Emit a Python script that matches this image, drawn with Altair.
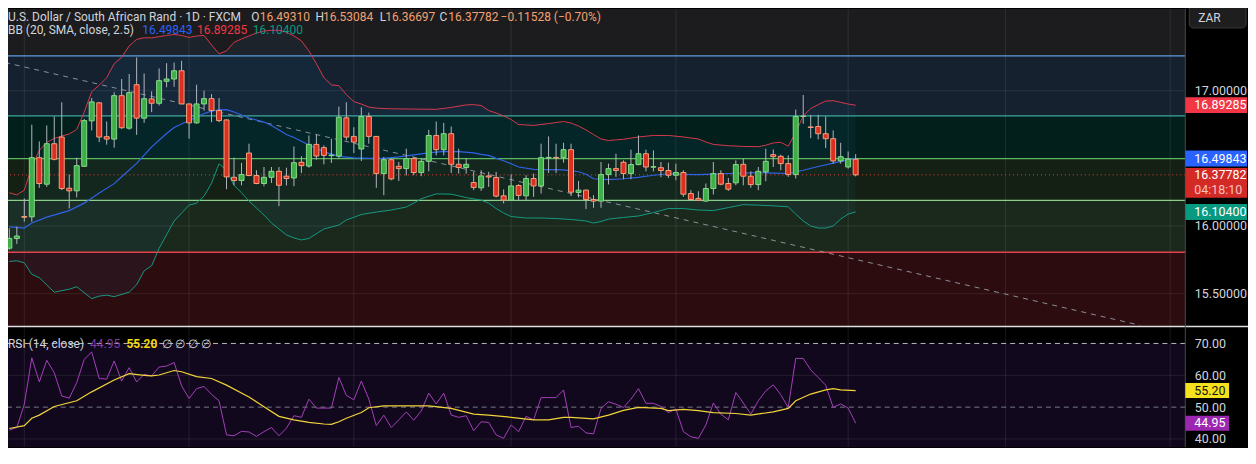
import altair as alt
import pandas as pd

# ---------------- data ----------------
opens = [15.836, 15.907, 16.070, 16.068, 16.505, 16.309, 16.608, 16.657, 16.279, 16.260,
         16.441, 16.777, 16.910, 16.660, 16.642, 16.963, 16.723, 17.044, 16.797, 16.939,
         16.907, 17.069, 17.086, 17.147, 16.902, 16.762, 16.902, 16.941, 16.853, 16.784,
         16.360, 16.336, 16.539, 16.373, 16.314, 16.360, 16.404, 16.368, 16.355, 16.471,
         16.443, 16.603, 16.579, 16.520, 16.517, 16.799, 16.662, 16.569, 16.809, 16.662,
         16.387, 16.490, 16.441, 16.424, 16.498, 16.395, 16.478, 16.669, 16.564, 16.682,
         16.456, 16.432, 16.321, 16.282, 16.370, 16.358, 16.223, 16.191, 16.299, 16.223,
         16.351, 16.296, 16.503, 16.507, 16.505, 16.564, 16.248, 16.265, 16.196, 16.184,
         16.380, 16.424, 16.471, 16.387, 16.454, 16.534, 16.435, 16.431, 16.410, 16.375,
         16.395, 16.240, 16.204, 16.184, 16.277, 16.387, 16.314, 16.319, 16.456, 16.368,
         16.306, 16.400, 16.527, 16.515, 16.461, 16.380, 16.809, 16.732, 16.735, 16.682,
         16.645, 16.481, 16.436, 16.49310]
highs = [15.983, 15.995, 16.204, 16.748, 16.625, 16.743, 16.809, 16.914, 16.380, 16.505,
         16.792, 16.946, 16.915, 16.772, 16.988, 17.086, 17.123, 17.245, 17.127, 16.995,
         17.164, 17.203, 17.208, 17.221, 16.904, 17.044, 17.000, 16.975, 16.946, 16.787,
         16.505, 16.466, 16.608, 16.412, 16.436, 16.436, 16.436, 16.431, 16.588, 16.515,
         16.669, 16.676, 16.596, 16.645, 16.882, 16.914, 16.730, 16.877, 16.838, 16.665,
         16.510, 16.500, 16.473, 16.571, 16.510, 16.500, 16.711, 16.772, 16.762, 16.735,
         16.571, 16.500, 16.400, 16.412, 16.400, 16.400, 16.270, 16.382, 16.309, 16.375,
         16.387, 16.608, 16.662, 16.608, 16.615, 16.608, 16.333, 16.268, 16.228, 16.473,
         16.461, 16.534, 16.485, 16.564, 16.669, 16.564, 16.559, 16.473, 16.468, 16.461,
         16.412, 16.265, 16.257, 16.314, 16.473, 16.412, 16.355, 16.485, 16.498, 16.404,
         16.436, 16.571, 16.566, 16.527, 16.522, 16.860, 16.968, 16.821, 16.821, 16.809,
         16.706, 16.615, 16.551, 16.53084]
lows = [15.824, 15.868, 16.032, 16.032, 16.282, 16.289, 16.485, 16.265, 16.130, 16.211,
        16.436, 16.706, 16.620, 16.601, 16.579, 16.718, 16.711, 16.674, 16.762, 16.841,
        16.890, 17.025, 17.029, 16.900, 16.645, 16.755, 16.853, 16.767, 16.767, 16.272,
        16.301, 16.301, 16.368, 16.309, 16.294, 16.318, 16.147, 16.299, 16.294, 16.392,
        16.431, 16.490, 16.456, 16.466, 16.498, 16.632, 16.539, 16.480, 16.608, 16.282,
        16.228, 16.338, 16.333, 16.373, 16.375, 16.368, 16.404, 16.522, 16.522, 16.392,
        16.387, 16.387, 16.265, 16.260, 16.289, 16.211, 16.167, 16.185, 16.191, 16.191,
        16.216, 16.240, 16.392, 16.392, 16.468, 16.221, 16.211, 16.125, 16.135, 16.135,
        16.307, 16.363, 16.346, 16.346, 16.449, 16.404, 16.404, 16.360, 16.355, 16.338,
        16.216, 16.186, 16.184, 16.179, 16.233, 16.301, 16.260, 16.301, 16.301, 16.282,
        16.265, 16.331, 16.436, 16.412, 16.363, 16.351, 16.755, 16.649, 16.640, 16.576,
        16.461, 16.461, 16.424, 16.36697]
closes = [15.909, 15.926, 16.065, 16.505, 16.314, 16.608, 16.493, 16.277, 16.260, 16.446,
          16.779, 16.917, 16.657, 16.642, 16.963, 16.726, 16.985, 16.797, 16.941, 16.907,
          17.074, 17.086, 17.147, 16.902, 16.762, 16.902, 16.941, 16.853, 16.779, 16.363,
          16.336, 16.380, 16.373, 16.314, 16.360, 16.404, 16.301, 16.351, 16.468, 16.446,
          16.603, 16.517, 16.522, 16.524, 16.804, 16.657, 16.620, 16.809, 16.662, 16.387,
          16.490, 16.348, 16.424, 16.498, 16.395, 16.478, 16.669, 16.564, 16.682, 16.456,
          16.432, 16.456, 16.285, 16.370, 16.362, 16.221, 16.191, 16.296, 16.226, 16.351,
          16.296, 16.505, 16.507, 16.503, 16.564, 16.250, 16.265, 16.196, 16.184, 16.380,
          16.424, 16.410, 16.387, 16.454, 16.534, 16.436, 16.438, 16.410, 16.375, 16.395,
          16.235, 16.196, 16.191, 16.277, 16.387, 16.309, 16.272, 16.454, 16.368, 16.306,
          16.404, 16.478, 16.512, 16.461, 16.380, 16.809, 16.812, 16.728, 16.682, 16.645,
          16.481, 16.512, 16.4931, 16.37782]
idx = list(range(len(closes)))

bb_up_i = [0, 1, 2, 3, 4, 5, 6, 7, 8, 9, 10, 11, 12, 13, 14, 15, 16, 17, 18, 19, 20, 21, 22, 23,
           24, 25, 26, 27, 28, 29, 30, 31, 32, 33, 34, 35, 36, 37, 38, 39, 40, 41, 42, 43, 44,
           45, 46, 47, 48, 49, 51, 54, 57, 59, 61, 62, 63, 64, 65, 66, 67, 68, 70, 72, 74, 75,
           76, 77, 78, 79, 80, 82, 84, 86, 88, 90, 92, 93, 94, 96, 98, 100, 101, 102, 103, 104,
           105, 106, 107, 108, 109, 110, 111, 112, 113]
bb_up_v = [16.246, 16.230, 16.265, 16.437, 16.559, 16.618, 16.647, 16.665, 16.680, 16.713,
           16.842, 16.993, 17.040, 17.096, 17.199, 17.246, 17.331, 17.379, 17.391, 17.390,
           17.399, 17.408, 17.415, 17.408, 17.393, 17.404, 17.408, 17.338, 17.272, 17.294,
           17.357, 17.382, 17.404, 17.426, 17.441, 17.446, 17.446, 17.432, 17.404, 17.368,
           17.294, 17.199, 17.096, 17.042, 17.037, 16.971, 16.919, 16.901, 16.879, 16.871,
           16.866, 16.864, 16.862, 16.876, 16.895, 16.897, 16.890, 16.853, 16.835, 16.813,
           16.787, 16.750, 16.743, 16.757, 16.772, 16.761, 16.739, 16.710, 16.676, 16.643,
           16.632, 16.641, 16.658, 16.669, 16.669, 16.658, 16.643, 16.621, 16.603, 16.593,
           16.588, 16.586, 16.597, 16.614, 16.618, 16.590, 16.691, 16.813, 16.868, 16.897,
           16.923, 16.926, 16.914, 16.901, 16.89285]

bb_mid_i = [0, 1, 2, 3, 5, 8, 10, 12, 14, 15, 17, 19, 21, 22, 24, 26, 27, 28, 29, 30, 32, 34,
            35, 37, 38, 40, 42, 44, 46, 48, 50, 52, 54, 56, 58, 60, 62, 63, 64, 65, 66, 67, 68,
            70, 72, 74, 76, 77, 78, 80, 82, 84, 86, 88, 90, 92, 94, 96, 98, 100, 102, 104, 106,
            108, 110, 112, 113]
bb_mid_v = [15.993, 15.990, 15.985, 16.022, 16.066, 16.114, 16.169, 16.243, 16.313, 16.364,
            16.463, 16.585, 16.684, 16.728, 16.779, 16.831, 16.849, 16.858, 16.860, 16.842,
            16.798, 16.768, 16.743, 16.676, 16.654, 16.599, 16.548, 16.515, 16.504, 16.499,
            16.500, 16.511, 16.526, 16.540, 16.551, 16.549, 16.540, 16.529, 16.522, 16.500,
            16.482, 16.460, 16.436, 16.418, 16.417, 16.415, 16.401, 16.382, 16.349, 16.343,
            16.349, 16.360, 16.375, 16.386, 16.382, 16.380, 16.384, 16.388, 16.391, 16.395,
            16.391, 16.388, 16.412, 16.440, 16.465, 16.488, 16.49843]

bb_lo_i = [0, 1, 2, 3, 4, 6, 8, 9, 11, 12, 13, 14, 16, 17, 18, 19, 20, 22, 24, 25, 26, 27, 28,
           29, 30, 31, 32, 34, 35, 36, 37, 38, 39, 40, 42, 44, 45, 47, 49, 51, 53, 54, 55, 57,
           59, 61, 63, 64, 65, 66, 67, 69, 71, 73, 75, 77, 78, 79, 80, 82, 84, 86, 88, 90, 92,
           94, 96, 98, 100, 102, 104, 105, 106, 107, 108, 109, 110, 111, 112, 113]
bb_lo_v = [15.738, 15.743, 15.728, 15.643, 15.618, 15.511, 15.533, 15.551, 15.463, 15.482,
           15.489, 15.478, 15.511, 15.566, 15.669, 15.706, 15.835, 16.037, 16.154, 16.169,
           16.221, 16.316, 16.460, 16.412, 16.301, 16.246, 16.184, 16.081, 16.022, 15.978,
           15.934, 15.912, 15.897, 15.908, 15.978, 16.007, 16.044, 16.085, 16.103, 16.118,
           16.140, 16.169, 16.202, 16.237, 16.235, 16.210, 16.191, 16.169, 16.129, 16.096,
           16.070, 16.059, 16.059, 16.055, 16.048, 16.037, 16.022, 16.033, 16.051, 16.063,
           16.074, 16.099, 16.129, 16.129, 16.118, 16.114, 16.136, 16.158, 16.154, 16.149,
           16.142, 16.088, 16.037, 16.000, 15.985, 15.985, 16.000, 16.051, 16.088, 16.104]

rsi_vals = [42.8, 43.6, 50.9, 65.5, 57.9, 64.7, 60.8, 53.5, 52.8, 57.7,
            65.0, 67.3, 59.0, 58.8, 64.5, 58.2, 62.4, 57.9, 60.3, 59.8,
            62.6, 62.9, 64.0, 56.7, 52.7, 55.8, 56.5, 54.0, 52.0, 41.3,
            41.0, 42.4, 42.2, 40.8, 42.3, 43.6, 41.0, 43.4, 47.3, 46.8,
            52.5, 49.7, 49.7, 49.7, 59.3, 53.7, 52.3, 58.2, 52.5, 44.2,
            47.5, 43.6, 46.0, 48.5, 45.9, 48.8, 54.4, 51.0, 54.4, 47.5,
            46.8, 47.3, 42.6, 45.4, 45.2, 41.3, 40.2, 44.4, 42.3, 47.1,
            46.0, 53.0, 53.0, 53.0, 55.4, 43.6, 44.0, 41.9, 41.6, 49.6,
            51.7, 50.9, 49.9, 52.5, 55.8, 51.2, 51.2, 50.2, 48.3, 49.4,
            42.3, 40.7, 40.2, 44.4, 51.3, 47.8, 46.0, 54.6, 51.3, 47.8,
            52.0, 55.1, 57.0, 53.9, 49.9, 65.3, 65.3, 61.7, 59.3, 56.9,
            49.9, 51.0, 49.7, 44.95]

rsi_ma_i = [0, 2, 3, 4, 6, 9, 11, 14, 16, 18, 19, 20, 22, 23, 25, 27, 29, 32, 34, 36, 38, 40,
            42, 43, 44, 45, 47, 48, 50, 53, 56, 59, 62, 64, 67, 70, 72, 74, 75, 78, 80, 82, 84,
            87, 88, 90, 92, 94, 97, 99, 102, 104, 105, 107, 109, 110, 111, 113]
rsi_ma_v = [43.3, 44.2, 46.5, 47.5, 50.2, 52.0, 54.8, 58.5, 60.5, 60.0, 59.8, 60.1, 61.5,
            61.1, 59.6, 59.0, 56.9, 53.2, 50.1, 47.1, 46.0, 45.2, 44.7, 44.6, 45.4, 46.5,
            48.3, 49.8, 50.4, 50.4, 50.4, 49.6, 47.8, 47.5, 46.8, 46.0, 46.0, 46.8, 46.8,
            46.3, 47.5, 49.0, 49.9, 49.6, 48.9, 49.3, 48.9, 48.3, 48.0, 47.5, 48.5, 49.6,
            52.0, 54.1, 55.4, 55.8, 55.4, 55.20]

zone_names = ["z0", "z1", "z2", "z3", "z4", "z5"]
zone_top = [17.60294, 17.257, 16.814, 16.498, 16.189, 15.806]
zone_bot = [17.257, 16.814, 16.498, 16.189, 15.806, 15.2574]
level_names = ["l1", "l2", "l3", "l4", "l5"]
level_prices = [17.257, 16.814, 16.498, 16.189, 15.806]
price_grid = [17.0, 16.5, 16.0, 15.5]
price_ticks = [17.0, 16.0, 15.5]
rsi_grid = [60, 40]
rsi_ticks = [70, 60, 50, 40]
month_idx = [2, 24, 46, 67, 89, 112, 133, 155]
trend_i = [-0.57, 150.95]
trend_p = [17.208, 15.267]

# ---------------- styles ----------------
zone_colors = ["#1c1c1e", "#15212e", "#031f1c", "#132013", "#1b291d", "#2c0c0f"]
level_colors = ["#5d9ddf", "#3ea89e", "#5cb85c", "#8ccf8c", "#e2424c"]
FONT = "Roboto"
GRAY = "#d1d4dc"
W, H = 1183, 440

XS = alt.Scale(domain=[0.4875, 156.35], nice=False, zero=False)
PS = alt.Scale(domain=[14.3676, 17.60294], nice=False, zero=False)
RS = alt.Scale(domain=[37.5, 175.0], nice=False, zero=False)


def X(f):
    return alt.X(f, type="quantitative", scale=XS, axis=None)


def PY(f, axis=None):
    return alt.Y(f, type="quantitative", scale=PS, axis=axis)


def RY(f, axis=None):
    return alt.Y(f, type="quantitative", scale=RS, axis=axis)


ONE = alt.Data(values=[{}])


def txt(s, x, y, color, size=12, weight="normal"):
    return alt.Chart(ONE).mark_text(
        text=s, align="left", baseline="alphabetic", font=FONT, fontSize=size,
        fontWeight=weight, color=color
    ).encode(x=alt.value(x), y=alt.value(y))


# ---------------- tables ----------------
candles = pd.DataFrame({"i": idx, "o": opens, "h": highs, "l": lows, "c": closes})
candles["dir"] = ["up" if c >= o else "down" for o, c in zip(opens, closes)]
zones = pd.DataFrame({"name": zone_names, "top": zone_top, "bot": zone_bot})
levels = pd.DataFrame({"name": level_names, "p": level_prices})
up_df = pd.DataFrame({"i": bb_up_i, "up": bb_up_v})
mid_df = pd.DataFrame({"i": bb_mid_i, "mid": bb_mid_v})
lo_df = pd.DataFrame({"i": bb_lo_i, "lo": bb_lo_v})
fill_df = up_df.merge(lo_df, on="i", how="inner")
rsi_df = pd.DataFrame({"i": idx, "r": rsi_vals})
rsima_df = pd.DataFrame({"i": rsi_ma_i, "m": rsi_ma_v})
trend_df = pd.DataFrame({"i": trend_i, "p": trend_p})

layers = []

# price pane zones
layers.append(alt.Chart(zones).mark_rect().encode(
    x=alt.value(0), x2=alt.value(W), y=PY("top"), y2="bot",
    fill=alt.Fill("name:N", scale=alt.Scale(domain=zone_names, range=zone_colors), legend=None)))

# RSI band
layers.append(alt.Chart(pd.DataFrame({"a": [70], "b": [30]})).mark_rect(color="#12081d", clip=True).encode(
    x=alt.value(0), x2=alt.value(W), y=RY("a"), y2="b"))

# BB fill
layers.append(alt.Chart(fill_df).mark_area(color="#2196f3", opacity=0.06, clip=True).encode(
    x=X("i"), y=PY("up"), y2="lo"))

# grids
layers.append(alt.Chart(pd.DataFrame({"p": price_grid})).mark_rule(color="#ffffff", opacity=0.09).encode(
    y=PY("p", axis=alt.Axis(orient="right", values=price_ticks, format=".5f", labelFont=FONT,
                            labelFontSize=12.5, labelColor=GRAY, labelPadding=9, ticks=False,
                            tickSize=0, domain=False, grid=False, title=None, labelAlign="left",
                            labelBaseline="middle"))))
layers.append(alt.Chart(pd.DataFrame({"r": rsi_grid})).mark_rule(color="#ffffff", opacity=0.09).encode(
    y=RY("r", axis=alt.Axis(orient="right", values=rsi_ticks, format=".2f", labelFont=FONT,
                            labelFontSize=12.5, labelColor=GRAY, labelPadding=9, ticks=False,
                            tickSize=0, domain=False, grid=False, title=None, labelAlign="left",
                            labelBaseline="middle"))))
layers.append(alt.Chart(pd.DataFrame({"r": [70]})).mark_rule(color="#b8bbc4", strokeDash=[5, 4]).encode(y=RY("r")))
layers.append(alt.Chart(pd.DataFrame({"r": [50]})).mark_rule(color="#787b86", strokeDash=[5, 4]).encode(y=RY("r")))
layers.append(alt.Chart(pd.DataFrame({"g": month_idx})).mark_rule(color="#ffffff", opacity=0.09).encode(x=X("g")))

# level lines
layers.append(alt.Chart(levels).mark_rule(strokeWidth=1.3).encode(
    y=PY("p"), color=alt.Color("name:N", scale=alt.Scale(domain=level_names, range=level_colors), legend=None)))

# trend line and last price line
layers.append(alt.Chart(trend_df).mark_line(color="#8c8f99", strokeDash=[5, 5], strokeWidth=1, clip=True).encode(
    x=X("i"), y=PY("p")))
layers.append(alt.Chart(pd.DataFrame({"p": [closes[-1]]})).mark_rule(color="#e8423c", strokeDash=[1, 3]).encode(
    y=PY("p")))

# Bollinger lines
layers.append(alt.Chart(up_df).mark_line(color="#d6394d", strokeWidth=1, clip=True).encode(x=X("i"), y=PY("up")))
layers.append(alt.Chart(mid_df).mark_line(color="#2f62e6", strokeWidth=1.2, clip=True).encode(x=X("i"), y=PY("mid")))
layers.append(alt.Chart(lo_df).mark_line(color="#149a80", strokeWidth=1, clip=True).encode(x=X("i"), y=PY("lo")))

# candles
layers.append(alt.Chart(candles).mark_rule(color="#b2b5be", strokeWidth=1, clip=True).encode(
    x=X("i"), y=PY("l"), y2="h"))
layers.append(alt.Chart(candles).mark_bar(size=5, strokeWidth=1, clip=True).encode(
    x=X("i"), y=PY("o"), y2="c",
    fill=alt.Fill("dir:N", scale=alt.Scale(domain=["up", "down"], range=["#3fae49", "#dc2f22"]), legend=None),
    stroke=alt.Stroke("dir:N", scale=alt.Scale(domain=["up", "down"], range=["#86d98a", "#f4a07c"]), legend=None)))

# RSI lines
layers.append(alt.Chart(rsi_df).mark_line(color="#a23fb8", strokeWidth=1, clip=True).encode(x=X("i"), y=RY("r")))
layers.append(alt.Chart(rsima_df).mark_line(color="#f0d43a", strokeWidth=1.2, clip=True).encode(x=X("i"), y=RY("m")))

# separators
layers.append(alt.Chart(ONE).mark_rule(color="#e0e0e0", strokeWidth=1.5).encode(
    x=alt.value(0), x2=alt.value(1246), y=alt.value(319)))
layers.append(alt.Chart(ONE).mark_rule(color="#4a4a4a", strokeWidth=1).encode(
    x=alt.value(W), y=alt.value(0), y2=alt.value(H)))

# price tags
tag_names = ["upper", "basis", "lower"]
tag_vals = [bb_up_v[-1], bb_mid_v[-1], bb_lo_v[-1]]
tag_cols = ["#f23645", "#2962ff", "#089981"]
tags = pd.DataFrame({"name": tag_names, "p": tag_vals, "label": [f"{v:.5f}" for v in tag_vals]})
layers.append(alt.Chart(tags).mark_point(shape="M-1,-0.258H1V0.258H-1Z", size=3844, filled=True,
                                         opacity=1, strokeWidth=0).encode(
    x=alt.value(W + 31), y=PY("p"),
    fill=alt.Fill("name:N", scale=alt.Scale(domain=tag_names, range=tag_cols), legend=None)))
layers.append(alt.Chart(tags).mark_text(align="left", baseline="middle", font=FONT, fontSize=12.5,
                                        color="#ffffff").encode(
    x=alt.value(W + 9), y=PY("p"), text="label:N"))

close_df = pd.DataFrame({"p": [closes[-1]], "label": [f"{closes[-1]:.5f}"], "timer": ["04:18:10"]})
layers.append(alt.Chart(close_df).mark_point(shape="M-1,-0.226H1V0.742H-1Z", size=3844, filled=True,
                                             opacity=1, strokeWidth=0, color="#d42a26").encode(
    x=alt.value(W + 31), y=PY("p")))
layers.append(alt.Chart(close_df).mark_text(align="left", baseline="middle", font=FONT, fontSize=12.5,
                                            color="#ffffff").encode(
    x=alt.value(W + 9), y=PY("p"), text="label:N"))
layers.append(alt.Chart(close_df).mark_text(align="left", baseline="middle", font=FONT, fontSize=12.5,
                                            color="#f6c1c1", dy=15).encode(
    x=alt.value(W + 9), y=PY("p"), text="timer:N"))

# RSI tags
rtag_names = ["ma", "rsi"]
rtag_vals = [rsi_ma_v[-1], rsi_vals[-1]]
rtags = pd.DataFrame({"name": rtag_names, "v": rtag_vals, "label": [f"{v:.2f}" for v in rtag_vals]})
layers.append(alt.Chart(rtags).mark_point(shape="M-1,-0.341H1V0.341H-1Z", size=1936, filled=True,
                                          opacity=1, strokeWidth=0).encode(
    x=alt.value(W + 22), y=RY("v"),
    fill=alt.Fill("name:N", scale=alt.Scale(domain=rtag_names, range=["#f5e11d", "#9c27b0"]), legend=None)))
layers.append(alt.Chart(rtags).mark_text(align="left", baseline="middle", font=FONT, fontSize=12.5).encode(
    x=alt.value(W + 9), y=RY("v"), text="label:N",
    color=alt.Color("name:N", scale=alt.Scale(domain=rtag_names, range=["#131313", "#ffffff"]), legend=None)))

# currency box
layers.append(alt.Chart(ONE).mark_rect(fill="#1e1e1e", stroke="#3a3a3a", strokeWidth=1, cornerRadius=4).encode(
    x=alt.value(1187), x2=alt.value(1244), y=alt.value(-6), y2=alt.value(19)))
layers.append(txt("ZAR", 1196, 13, GRAY, 12))

# headers
ORANGE = "#f5a06e"
chg = closes[-1] - closes[-2]
pct = chg / closes[-2] * 100
Y1 = 11.5
layers += [
    txt("U.S. Dollar / South African Rand · 1D · FXCM", 0, Y1, GRAY),
    txt("O", 244.5, Y1, GRAY), txt(f"{opens[-1]:.5f}", 253, Y1, ORANGE),
    txt("H", 309, Y1, GRAY), txt(f"{highs[-1]:.5f}", 316.5, Y1, ORANGE),
    txt("L", 373.5, Y1, GRAY), txt(f"{lows[-1]:.5f}", 379, Y1, ORANGE),
    txt("C", 433.5, Y1, GRAY), txt(f"{closes[-1]:.5f}", 442.5, Y1, ORANGE),
    txt(f"{chg:+.5f} ({pct:+.2f}%)".replace("-", "\u2212"), 495, Y1, ORANGE),
    txt("BB (20, SMA, close, 2.5)", 0, 25.5, GRAY),
    txt(f"{bb_mid_v[-1]:.5f}", 135, 25.5, "#2962ff"),
    txt(f"{bb_up_v[-1]:.5f}", 190, 25.5, "#f23645"),
    txt(f"{bb_lo_v[-1]:.5f}", 246, 25.5, "#089981"),
    txt("RSI (14, close)", 0, 340.5, GRAY),
    txt(f"{rsi_vals[-1]:.2f}", 82.5, 340.5, "#7e3a9e"),
    txt(f"{rsi_ma_v[-1]:.2f}", 119, 340.5, "#f5d90a", 12, "bold"),
    txt("\u2205 \u2205 \u2205 \u2205", 155, 340.5, GRAY),
]

chart = alt.layer(*layers).resolve_scale(
    y="independent", fill="independent", stroke="independent", color="independent"
).properties(
    width=W, height=H,
    autosize=alt.AutoSizeParams(type="none"),
    padding={"left": 0, "top": 0, "right": 63, "bottom": 0},
).configure(background="#000000").configure_view(stroke=None)

chart.save("out.html", embed_options={"renderer": "svg", "actions": False})
